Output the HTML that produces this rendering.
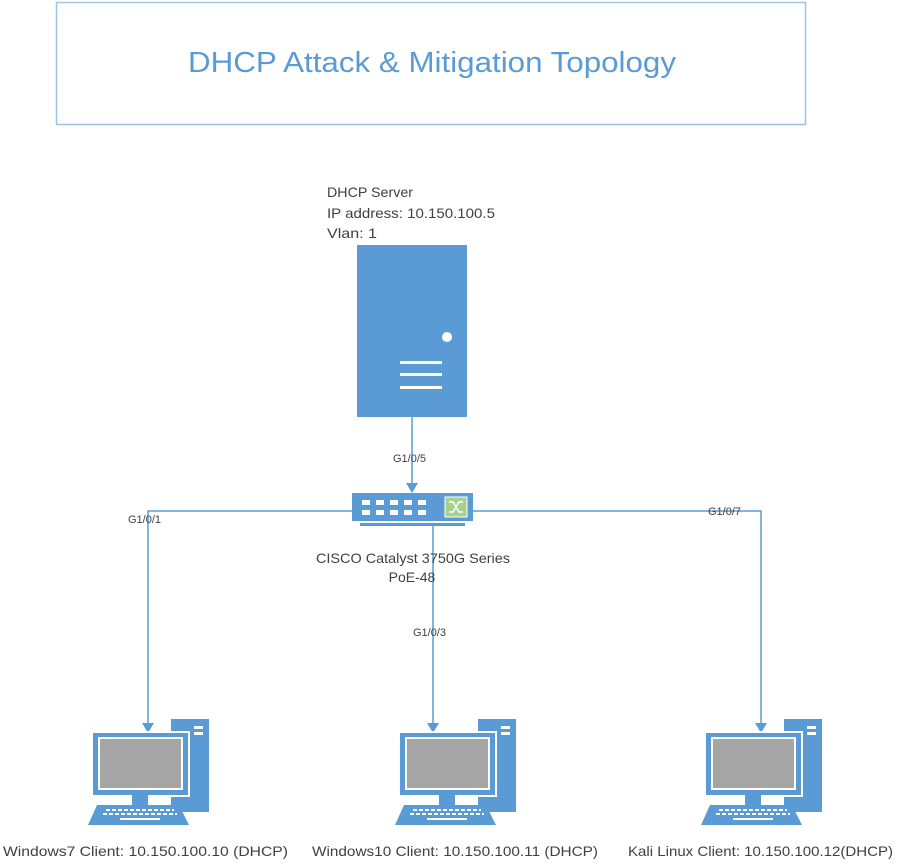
<!DOCTYPE html>
<html><head><meta charset="utf-8"><style>
html,body{margin:0;padding:0;background:#fff;}
svg{display:block;font-family:"Liberation Sans",sans-serif;}
</style></head><body>
<svg width="902" height="868" viewBox="0 0 902 868" xmlns="http://www.w3.org/2000/svg">
<defs>
<g id="pc">
  <rect x="78" y="719" width="38" height="93" fill="#5b9bd5"/>
  <rect x="101" y="726" width="9" height="3" fill="#fff"/>
  <rect x="101" y="732" width="9" height="3" fill="#fff"/>
  <rect x="-2" y="731" width="99" height="66" fill="#fff"/>
  <rect x="0" y="733" width="95" height="62" fill="#5b9bd5"/>
  <rect x="5" y="737" width="85" height="53" fill="#fff"/>
  <rect x="7" y="739" width="81" height="49" fill="#a5a5a5"/>
  <rect x="39" y="795" width="16" height="10" fill="#5b9bd5"/>
  <polygon points="4,805 86,805 96,825 -5,825" fill="#5b9bd5"/>
  <g stroke="#fff" stroke-width="2" stroke-dasharray="4,2" fill="none">
    <line x1="13" y1="810" x2="81" y2="810"/>
    <line x1="10" y1="814" x2="84" y2="814"/>
  </g>
  <rect x="27" y="818" width="40" height="2" fill="#fff"/>
</g>
</defs>

<rect x="56.5" y="2.5" width="749" height="122" fill="#fff" stroke="#9dc3e6" stroke-width="1.5"/>
<text x="432" y="72" text-anchor="middle" font-size="29" fill="#5b9bd5" textLength="488" lengthAdjust="spacingAndGlyphs">DHCP Attack &amp; Mitigation Topology</text>

<g font-size="14" fill="#404040">
<text x="327" y="197" textLength="86" lengthAdjust="spacingAndGlyphs">DHCP Server</text>
<text x="327" y="218" textLength="168" lengthAdjust="spacingAndGlyphs">IP address: 10.150.100.5</text>
<text x="327" y="238" textLength="50" lengthAdjust="spacingAndGlyphs">Vlan: 1</text>
</g>

<rect x="357" y="245" width="110" height="172" fill="#5b9bd5"/>
<circle cx="447" cy="337" r="5" fill="#fff"/>
<rect x="400" y="361" width="42" height="3" fill="#fff"/>
<rect x="400" y="373" width="42" height="3" fill="#fff"/>
<rect x="400" y="386" width="42" height="3" fill="#fff"/>

<g stroke="#5b9bd5" stroke-width="1.5" fill="none">
<line x1="412" y1="417" x2="412" y2="484"/>
<polyline points="352,511 148,511 148,724"/>
<polyline points="473,511 761,511 761,724"/>
<line x1="433" y1="526" x2="433" y2="724"/>
</g>
<g fill="#5b9bd5">
<polygon points="406,483 418,483 412,493"/>
<polygon points="142,723 154,723 148,733"/>
<polygon points="427,723 439,723 433,733"/>
<polygon points="755,723 767,723 761,733"/>
</g>

<rect x="352" y="493" width="121" height="28" fill="#5b9bd5"/>
<rect x="360" y="523" width="105" height="3" fill="#5b9bd5"/>
<g fill="#fff">
<rect x="362" y="500" width="8" height="5"/><rect x="376" y="500" width="8" height="5"/><rect x="390" y="500" width="8" height="5"/><rect x="404" y="500" width="8" height="5"/><rect x="418" y="500" width="8" height="5"/>
<rect x="362" y="510" width="8" height="5"/><rect x="376" y="510" width="8" height="5"/><rect x="390" y="510" width="8" height="5"/><rect x="404" y="510" width="8" height="5"/><rect x="418" y="510" width="8" height="5"/>
</g>
<rect x="445" y="497" width="22" height="20" fill="#a9d18e" stroke="#fff" stroke-width="1"/>
<path d="M449,502 h4 l6,10 h4 M449,512 h4 l6,-10 h4" stroke="#fff" stroke-width="1.5" fill="none"/>

<g font-size="11" fill="#404040">
<text x="393" y="462">G1/0/5</text>
<text x="128" y="523">G1/0/1</text>
<text x="708" y="515">G1/0/7</text>
<text x="413" y="636">G1/0/3</text>
</g>
<g font-size="14" fill="#404040">
<text x="316" y="563" textLength="194" lengthAdjust="spacingAndGlyphs">CISCO Catalyst 3750G Series</text>
<text x="412" y="582" text-anchor="middle">PoE-48</text>
</g>

<use href="#pc" transform="translate(93,0)"/>
<use href="#pc" transform="translate(400,0)"/>
<use href="#pc" transform="translate(706,0)"/>

<g font-size="14" fill="#404040">
<text x="3" y="856" textLength="285" lengthAdjust="spacingAndGlyphs">Windows7 Client: 10.150.100.10 (DHCP)</text>
<text x="312" y="856" textLength="286" lengthAdjust="spacingAndGlyphs">Windows10 Client: 10.150.100.11 (DHCP)</text>
<text x="628" y="856" textLength="265" lengthAdjust="spacingAndGlyphs">Kali Linux Client: 10.150.100.12(DHCP)</text>
</g>
</svg>
</body></html>
